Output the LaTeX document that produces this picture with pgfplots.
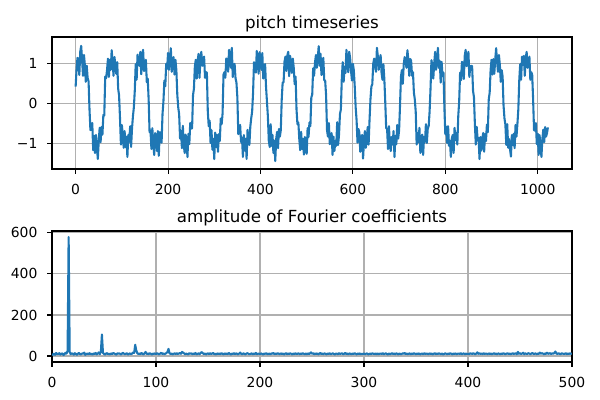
\documentclass[border=0pt]{standalone}
\usepackage{fontspec}
\setmainfont{DejaVu Sans}
\usepackage{pgfplots}
\pgfplotsset{compat=1.18}
\definecolor{C0}{HTML}{1F77B4}
\definecolor{gridgray}{HTML}{B0B0B0}
\pgfplotsset{
  mplstyle/.style={
    scale only axis,
    width=374.4pt,
    axis line style={line width=0.8pt},
    every tick/.style={black, line width=0.8pt},
    major tick length=3.5pt,
    tick align=outside,
    xtick pos=bottom, ytick pos=left,
    grid=major,
    grid style={gridgray, line width=0.8pt},
    tick label style={font=\fontsize{10}{12}\selectfont},
    xticklabel style={inner sep=0pt, anchor=north, yshift=-7.5pt},
    yticklabel style={inner sep=0pt, anchor=east, xshift=-6.8pt},
    /pgf/number format/assume math mode=true,
    /pgf/number format/1000 sep={},
    title style={at={(0.5,1)}, anchor=base, inner sep=0pt, font=\fontsize{12}{14.4}\selectfont},
  }
}
\begin{document}
\begin{tikzpicture}[x=1pt,y=1pt]
\path[use as bounding box] (0,0) rectangle (432,288);
\begin{axis}[mplstyle,
  at={(37.44pt,166.32pt)}, anchor=south west,
  height=95.04pt,
  xmin=-51.15, xmax=1074.15, ymin=-1.64, ymax=1.66,
  xtick={0,200,400,600,800,1000},
  ytick={-1,0,1}, yticklabels={−1,0,1},
  title={pitch timeseries}]
\addplot[C0, line width=1.5pt, line join=round] coordinates {
(0,0.42)(2,0.85)(4,1.14)(6,1.0)(8,0.71)(10,1.29)(12,1.44)(14,1.08)(16,0.69)(18,1.21)(20,0.96)(22,0.54)(24,0.94)(26,0.63)(28,0.55)(30,-0.15)(32,-0.67)(34,-0.58)(36,-0.49)(38,-1.17)(40,-0.81)(42,-1.24)(44,-0.79)(46,-1.08)(48,-1.39)(50,-0.94)(52,-0.61)(54,-0.97)(56,-0.59)(58,-0.78)(60,-0.29)(62,-0.3)
(64,0.67)(66,0.63)(68,0.84)(70,1.12)(72,0.66)(74,1.09)(76,0.84)(78,1.33)(80,1.04)(82,0.69)(84,1.16)(86,0.97)(88,0.74)(90,1.03)(92,0.37)(94,0.2)(96,-0.37)(98,-1.03)(100,-0.54)(102,-0.77)(104,-1.11)(106,-0.69)(108,-1.09)(110,-0.83)(112,-1.34)(114,-0.79)(116,-0.96)(118,-0.57)(120,-1.09)(122,-0.63)(124,-0.32)(126,-0.1)
(128,0.32)(130,0.98)(132,0.59)(134,1.22)(136,1.01)(138,0.94)(140,1.29)(142,0.73)(144,1.19)(146,1.34)(148,0.81)(150,0.87)(152,1.09)(154,0.53)(156,0.62)(158,0.1)(160,-0.72)(162,-0.68)(164,-1.14)(166,-0.62)(168,-1.01)(170,-1.29)(172,-0.74)(174,-0.88)(176,-1.19)(178,-0.69)(180,-1.31)(182,-0.72)(184,-0.74)(186,-0.98)(188,-0.27)(190,0.05)
(192,0.57)(194,0.43)(196,0.99)(198,0.87)(200,1.26)(202,0.84)(204,1.09)(206,1.38)(208,0.79)(210,1.04)(212,1.16)(214,0.72)(216,1.09)(218,0.83)(220,0.22)(222,-0.1)(224,-0.27)(226,-0.88)(228,-0.69)(230,-1.12)(232,-0.56)(234,-1.04)(236,-1.24)(238,-0.78)(240,-0.94)(242,-1.34)(244,-0.76)(246,-1.02)(248,-0.49)(250,-0.63)(252,-0.62)(254,0.2)
(256,0.37)(258,0.93)(260,1.09)(262,0.62)(264,1.06)(266,1.24)(268,0.64)(270,1.08)(272,1.29)(274,0.94)(276,1.11)(278,1.17)(280,0.64)(282,0.78)(284,0.77)(286,-0.2)(288,-0.57)(290,-0.43)(292,-0.99)(294,-0.67)(296,-1.16)(298,-0.89)(300,-1.39)(302,-0.73)(304,-1.09)(306,-0.79)(308,-1.21)(310,-0.77)(312,-0.94)(314,-0.38)(316,-0.52)(318,-0.25)
(320,0.72)(322,0.78)(324,0.64)(326,1.12)(328,1.11)(330,0.79)(332,1.34)(334,1.13)(336,0.89)(338,1.39)(340,0.66)(342,0.92)(344,0.99)(346,0.63)(348,0.52)(350,0.15)(352,-0.77)(354,-0.63)(356,-0.54)(358,-0.97)(360,-0.86)(362,-1.34)(364,-0.79)(366,-1.18)(368,-0.89)(370,-1.39)(372,-0.66)(374,-0.92)(376,-1.04)(378,-0.58)(380,-0.37)(382,-0.2)
(384,0.27)(386,1.03)(388,0.89)(390,0.77)(392,1.31)(394,1.04)(396,0.74)(398,1.28)(400,1.09)(402,0.84)(404,1.26)(406,0.62)(408,0.94)(410,0.98)(412,0.42)(414,0.05)(416,-0.32)(418,-0.93)(420,-1.09)(422,-0.52)(424,-1.06)(426,-0.79)(428,-1.24)(430,-0.93)(432,-1.44)(434,-0.89)(436,-0.71)(438,-1.12)(440,-0.64)(442,-0.83)(444,-0.67)(446,0.1)
(448,0.52)(450,0.53)(452,1.04)(454,1.17)(456,0.81)(458,1.19)(460,1.29)(462,0.68)(464,1.19)(466,1.04)(468,0.76)(470,1.12)(472,0.89)(474,0.48)(476,0.67)(478,-0.15)(480,-0.52)(482,-0.48)(484,-0.89)(486,-1.17)(488,-0.71)(490,-1.14)(492,-0.89)(494,-1.28)(496,-0.84)(498,-1.09)(500,-1.26)(502,-0.62)(504,-0.84)(506,-0.48)(508,-0.57)(510,0.15)
(512,0.22)(514,0.88)(516,0.69)(518,1.02)(520,1.21)(522,0.89)(524,1.14)(526,1.43)(528,0.94)(530,1.24)(532,0.71)(534,0.92)(536,1.14)(538,0.58)(540,0.57)(542,0.2)(544,-0.67)(546,-0.83)(548,-0.49)(550,-1.02)(552,-0.96)(554,-0.74)(556,-1.29)(558,-0.83)(560,-1.19)(562,-0.94)(564,-1.06)(566,-0.47)(568,-1.04)(570,-0.78)(572,-0.27)(574,-0.15)
(576,0.62)(578,1.03)(580,0.54)(582,0.92)(584,0.76)(586,1.34)(588,1.04)(590,0.78)(592,1.29)(594,1.14)(596,0.81)(598,0.57)(600,0.99)(602,0.83)(604,0.42)(606,-0.1)(608,-0.42)(610,-0.98)(612,-0.64)(614,-0.72)(616,-1.21)(618,-0.89)(620,-0.79)(622,-1.38)(624,-0.94)(626,-0.69)(628,-1.11)(630,-0.92)(632,-0.59)(634,-1.03)(636,-0.42)(638,0.1)
(640,0.42)(642,0.48)(644,0.99)(646,1.12)(648,0.96)(650,0.79)(652,1.39)(654,1.18)(656,0.84)(658,1.09)(660,1.21)(662,0.77)(664,0.59)(666,0.98)(668,0.62)(670,0.05)(672,-0.62)(674,-0.63)(676,-1.14)(678,-0.57)(680,-1.01)(682,-1.19)(684,-0.84)(686,-1.03)(688,-0.69)(690,-1.34)(692,-0.81)(694,-1.02)(696,-0.54)(698,-0.88)(700,-0.67)(702,-0.05)
(704,0.67)(706,0.83)(708,0.49)(710,0.97)(712,1.16)(714,1.04)(716,0.89)(718,1.33)(720,1.09)(722,0.69)(724,1.11)(726,1.07)(728,0.69)(730,0.78)(732,0.27)(734,0.1)(736,-0.22)(738,-1.03)(740,-0.74)(742,-0.97)(744,-0.61)(746,-1.24)(748,-1.09)(750,-0.78)(752,-1.29)(754,-0.84)(756,-0.96)(758,-0.52)(760,-0.99)(762,-0.63)(764,-0.57)(766,-0.2)
(768,0.37)(770,1.08)(772,0.94)(774,0.62)(776,1.01)(778,1.29)(780,0.84)(782,1.03)(784,1.39)(786,0.89)(788,1.06)(790,0.52)(792,1.04)(794,0.68)(796,0.77)(798,-0.1)(800,-0.77)(802,-0.58)(804,-0.99)(806,-0.57)(808,-1.06)(810,-0.94)(812,-1.34)(814,-0.88)(816,-0.79)(818,-1.24)(820,-0.61)(822,-0.92)(824,-0.74)(826,-1.03)(828,-0.32)(830,0.05)
(832,0.77)(834,0.58)(836,1.04)(838,0.92)(840,0.61)(842,1.19)(844,1.34)(846,0.93)(848,1.14)(850,1.29)(852,0.66)(854,0.92)(856,0.94)(858,0.93)(860,0.32)(862,0.15)(864,-0.52)(866,-1.03)(868,-0.59)(870,-0.92)(872,-0.86)(874,-1.39)(876,-0.84)(878,-1.18)(880,-0.89)(882,-0.74)(884,-1.21)(886,-0.77)(888,-0.94)(890,-0.53)(892,-0.72)(894,0.1)
(896,0.27)(898,0.83)(900,1.09)(902,0.72)(904,1.11)(906,0.74)(908,1.09)(910,1.38)(912,1.04)(914,0.79)(916,1.21)(918,0.97)(920,0.54)(922,0.83)(924,0.67)(926,-0.05)(928,-0.37)(930,-0.53)(932,-1.04)(934,-0.52)(936,-1.11)(938,-0.89)(940,-1.14)(942,-1.33)(944,-0.79)(946,-1.04)(948,-0.76)(950,-1.12)(952,-0.54)(954,-0.83)(956,-0.52)(958,-0.15)
(960,0.57)(962,0.98)(964,0.59)(966,1.17)(968,0.96)(970,1.19)(972,0.69)(974,1.13)(976,1.29)(978,0.89)(980,1.01)(982,1.17)(984,0.59)(986,0.78)(988,0.72)(990,0.1)(992,-0.67)(994,-0.68)(996,-0.49)(998,-1.02)(1000,-0.76)(1002,-1.29)(1004,-0.79)(1006,-1.08)(1008,-1.34)(1010,-0.89)(1012,-0.66)(1014,-0.97)(1016,-0.59)(1018,-0.83)(1020,-0.75)(1022,-0.6)
};
\end{axis}
\begin{axis}[mplstyle,
  at={(37.44pt,27.36pt)}, anchor=south west,
  height=94.32pt,
  xmin=0, xmax=500, ymin=-29, ymax=609,
  xtick={0,100,200,300,400,500},
  ytick={0,200,400,600},
  title={amplitude of Fourier coefficients}]
\addplot[C0, line width=1.5pt, line join=round] coordinates {
(0,3)(1,8)(2,12)(3,6)(4,15)(5,10)(6,9)(7,14)(8,7)(9,11)(10,13)(11,5)(12,9)(13,16)(14,12)(15,25)(16,580)(17,20)(18,9)(19,13)
(20,11)(21,7)(22,14)(23,10)(24,6)(25,12)(26,15)(27,9)(28,8)(29,13)(30,11)(31,17)(32,6)(33,10)(34,12)(35,8)(36,14)(37,9)(38,11)(39,7)
(40,13)(41,10)(42,15)(43,8)(44,12)(45,18)(46,9)(47,22)(48,105)(49,16)(50,10)(51,7)(52,12)(53,14)(54,9)(55,11)(56,8)(57,13)(58,10)(59,15)
(60,12)(61,9)(62,7)(63,14)(64,11)(65,13)(66,8)(67,10)(68,16)(69,12)(70,9)(71,11)(72,14)(73,7)(74,10)(75,13)(76,9)(77,12)(78,18)(79,15)
(80,55)(81,28)(82,14)(83,10)(84,12)(85,9)(86,15)(87,11)(88,8)(89,13)(90,20)(91,10)(92,12)(93,9)(94,14)(95,11)(96,7)(97,12)(98,10)(99,13)
(100,9)(101,14)(102,11)(103,8)(104,12)(105,16)(106,10)(107,13)(108,9)(109,11)(110,15)(111,19)(112,35)(113,14)(114,10)(115,12)(116,8)(117,11)(118,13)(119,9)
(120,14)(121,10)(122,12)(123,15)(124,11)(125,20)(126,17)(127,13)(128,9)(129,12)(130,10)(131,8)(132,14)(133,11)(134,13)(135,9)(136,12)(137,10)(138,15)(139,8)
(140,11)(141,13)(142,9)(143,16)(144,19)(145,14)(146,10)(147,12)(148,8)(149,11)(150,13)(151,9)(152,14)(153,10)(154,12)(155,15)(156,9)(157,11)(158,8)(159,13)
(160,10)(161,12)(162,9)(163,14)(164,11)(165,8)(166,13)(167,10)(168,12)(169,9)(170,15)(171,11)(172,7)(173,12)(174,10)(175,14)(176,9)(177,13)(178,11)(179,8)
(180,12)(181,17)(182,10)(183,9)(184,13)(185,11)(186,8)(187,12)(188,14)(189,10)(190,9)(191,11)(192,13)(193,8)(194,12)(195,10)(196,15)(197,9)(198,11)(199,12)
(200,9)(201,13)(202,10)(203,8)(204,12)(205,11)(206,14)(207,9)(208,10)(209,12)(210,8)(211,13)(212,11)(213,15)(214,9)(215,12)(216,10)(217,14)(218,11)(219,9)
(220,13)(221,10)(222,12)(223,8)(224,11)(225,14)(226,9)(227,12)(228,10)(229,13)(230,11)(231,8)(232,12)(233,9)(234,14)(235,10)(236,11)(237,13)(238,9)(239,12)
(240,10)(241,14)(242,11)(243,9)(244,12)(245,8)(246,13)(247,10)(248,12)(249,18)(250,11)(251,14)(252,9)(253,12)(254,10)(255,13)(256,8)(257,11)(258,15)(259,10)
(260,12)(261,9)(262,13)(263,11)(264,8)(265,12)(266,10)(267,14)(268,9)(269,11)(270,13)(271,10)(272,8)(273,12)(274,11)(275,9)(276,14)(277,10)(278,12)(279,13)
(280,9)(281,11)(282,15)(283,10)(284,12)(285,8)(286,13)(287,11)(288,9)(289,12)(290,10)(291,14)(292,11)(293,8)(294,12)(295,10)(296,13)(297,9)(298,11)(299,10)
(300,12)(301,9)(302,11)(303,13)(304,8)(305,10)(306,12)(307,9)(308,14)(309,11)(310,10)(311,12)(312,8)(313,13)(314,9)(315,11)(316,12)(317,10)(318,14)(319,9)
(320,11)(321,13)(322,10)(323,8)(324,12)(325,9)(326,11)(327,14)(328,10)(329,12)(330,9)(331,13)(332,11)(333,8)(334,12)(335,10)(336,9)(337,13)(338,11)(339,15)
(340,10)(341,12)(342,9)(343,11)(344,13)(345,8)(346,12)(347,10)(348,14)(349,11)(350,9)(351,12)(352,10)(353,13)(354,8)(355,11)(356,12)(357,9)(358,14)(359,10)
(360,12)(361,11)(362,9)(363,13)(364,10)(365,12)(366,8)(367,11)(368,14)(369,9)(370,12)(371,10)(372,13)(373,11)(374,9)(375,12)(376,8)(377,10)(378,13)(379,11)
(380,9)(381,12)(382,10)(383,14)(384,11)(385,8)(386,12)(387,10)(388,13)(389,9)(390,11)(391,12)(392,10)(393,14)(394,9)(395,11)(396,13)(397,8)(398,12)(399,10)
(400,11)(401,9)(402,13)(403,12)(404,10)(405,14)(406,11)(407,9)(408,12)(409,18)(410,10)(411,13)(412,11)(413,12)(414,9)(415,14)(416,10)(417,12)(418,11)(419,9)
(420,13)(421,10)(422,12)(423,9)(424,11)(425,14)(426,10)(427,12)(428,8)(429,13)(430,11)(431,9)(432,12)(433,10)(434,14)(435,11)(436,9)(437,12)(438,13)(439,10)
(440,12)(441,9)(442,11)(443,14)(444,10)(445,12)(446,13)(447,9)(448,20)(449,11)(450,14)(451,10)(452,12)(453,16)(454,9)(455,13)(456,11)(457,10)(458,14)(459,12)
(460,9)(461,12)(462,15)(463,10)(464,11)(465,13)(466,9)(467,12)(468,10)(469,17)(470,11)(471,14)(472,12)(473,9)(474,13)(475,10)(476,16)(477,11)(478,12)(479,14)
(480,10)(481,13)(482,11)(483,15)(484,22)(485,12)(486,10)(487,14)(488,11)(489,9)(490,13)(491,12)(492,10)(493,11)(494,14)(495,9)(496,12)(497,10)(498,13)(499,11)
(500,12)
};
\end{axis}
\end{tikzpicture}
\end{document}
